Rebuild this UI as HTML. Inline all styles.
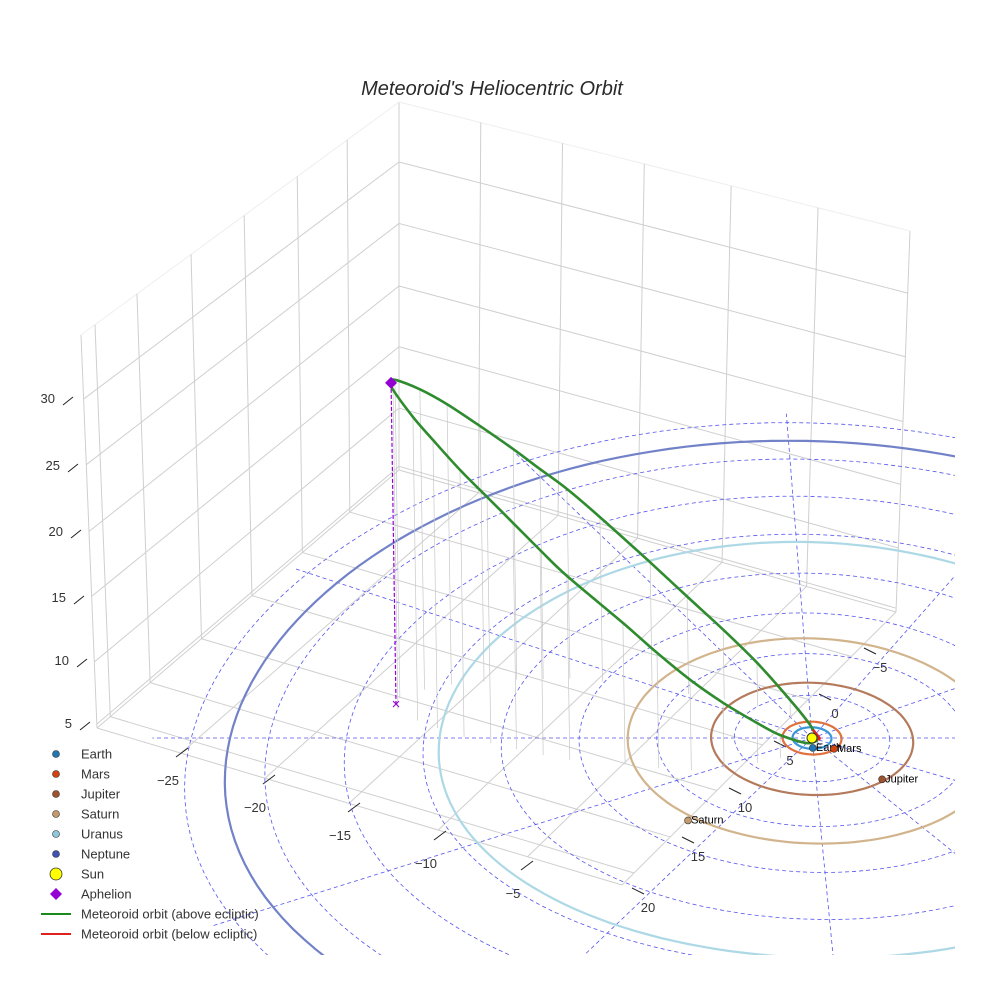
<!DOCTYPE html>
<html><head><meta charset="utf-8"><style>
html,body{margin:0;padding:0;background:#fff;overflow:hidden}
svg{display:block;font-family:"Liberation Sans",sans-serif}
</style></head><body>
<svg id="chart" width="984" height="984" viewBox="0 0 984 984">
<text x="492" y="95" text-anchor="middle" font-size="20" font-style="italic" fill="#2a2a2a">Meteoroid's Heliocentric Orbit</text>
<g id="box"></g>
<g id="ticks"></g>
<defs><clipPath id="pc"><rect x="0" y="0" width="955" height="955"/></clipPath></defs>
<g id="plane" clip-path="url(#pc)"></g>
<g id="marks"></g>
<g id="legend"></g>
</svg>
<script>
// ---- data ----
const orbitNames = ["Earth","Mars","Jupiter","Saturn","Uranus","Neptune"];
const orbitRadii = [1.0,1.52,5.2,9.5,19.2,30.0];
const orbitColors = ["#3a97d6","#e0703c","#b47a5c","#d2b48c","#add8e6","#7282c8"];
const planetU = [0.0,1.08,3.35,-6.46];
const planetV = [0.92,1.0,3.78,7.46];
const planetColors = ["#1f77b4","#d5410f","#a0522d","#c49a6c"];
const gridRadii = [4,8,12,16,20,24,28,32];
const upperU = [-21.70,-21.54,-20.30,-18.91,-17.19,-15.46,-14.05,-12.63,-10.89,-8.25,-6.32,-4.45,-2.71,-1.04,-0.05,0.3];
const upperV = [-3.18,-3.72,-4.54,-5.04,-5.32,-5.51,-5.55,-5.60,-5.32,-4.68,-4.12,-3.61,-2.95,-1.88,-1.01,0.2];
const upperZ = [24.7,24.5,23.1,21.55,19.64,17.72,16.15,14.58,12.64,9.68,7.50,5.37,3.36,1.38,0.17,0];
const lowerU = [-21.70,-21.56,-20.45,-19.37,-17.94,-16.53,-15.19,-13.80,-12.43,-9.61,-7.90,-6.25,-4.59,-2.87,-1.70,-0.29,0.3];
const lowerV = [-3.18,-2.68,-1.62,-0.93,-0.10,0.47,1.01,1.58,2.05,2.43,2.78,2.95,2.78,2.30,1.84,0.77,0.2];
const lowerZ = [24.7,24.58,23.36,22.15,20.54,18.93,17.39,15.78,14.18,10.89,8.88,6.96,5.04,3.08,1.77,0.25,0];
const belowU = [0.3,0.4,0.1];
const belowV = [0.2,-0.5,-1.0];
const belowZ = [0.0,-0.4,-0.2];
const aphelion = [-21.70,-3.18,24.7];
const xTickLabels = ["−25","−20","−15","−10","−5"];
const yTickLabels = ["20","15","10","5","0","−5"];
const zTickLabels = ["30","25","20","15","10","5"];

const NS="http://www.w3.org/2000/svg";
function P(u,v,z){const wx=1-0.006*v,wy=1-0.003*v;return [812+(19.4*u+0.93*v)/wx-0.2*z, 738+10.8*v/wy-13*z];}
function el(tag,attrs,parent){const e=document.createElementNS(NS,tag);for(const k in attrs)e.setAttribute(k,attrs[k]);parent.appendChild(e);return e;}
function lerp(a,b,t){return [a[0]+(b[0]-a[0])*t,a[1]+(b[1]-a[1])*t];}
const box=document.getElementById('box'),ticks=document.getElementById('ticks'),plane=document.getElementById('plane'),marks=document.getElementById('marks'),legend=document.getElementById('legend');

// ---- axis box ----
const L=[97,728],Bk=[399,470],R=[896,612],F=[622,885],Lt=[81,335],Bt=[399,102],Rt=[910,231];
const gc="#cfcfcf";
function line(a,b,c,w,parent){return el('line',{x1:a[0],y1:a[1],x2:b[0],y2:b[1],stroke:c,'stroke-width':w},parent);}
[[L,Lt],[Bk,Bt],[R,Rt]].forEach(p=>{const l=line(p[0],p[1],gc,1,box);});
line(Lt,Bt,"#eee",1,box);line(Bt,Rt,"#eee",1,box);
const leftFr=[0.044,0.176,0.346,0.513,0.68,0.837];
const rightFr=[0.16,0.32,0.48,0.65,0.82];
leftFr.forEach(t=>{const l=line(lerp(L,Bk,t),lerp(Lt,Bt,t),gc,1,box);
  line(lerp(L,Bk,t),lerp(F,R,t),gc,1,box);});
rightFr.forEach(t=>{const l=line(lerp(Bk,R,t),lerp(Bt,Rt,t),gc,1,box);
  line(lerp(Bk,R,t),lerp(L,F,t),gc,1,box);});
line(L,Bk,gc,1,box);line(Bk,R,gc,1,box);line(L,F,gc,1,box);line(F,R,gc,1,box);
const zFr=[0.163,0.33,0.5,0.665,0.832,0.99];
zFr.forEach(t=>{const a=lerp(Lt,L,t),b=lerp(Bt,Bk,t),c=lerp(Rt,R,t);
  const l=line(a,b,gc,1,box);line(b,c,gc,1,box);});

// ---- tick labels ----
const xPos=[[168,785],[255,812],[340,840],[426,868],[513,898]];
xTickLabels.forEach((s,i)=>{const t=el('text',{x:xPos[i][0],y:xPos[i][1],'font-size':13,fill:'#333','text-anchor':'middle'},ticks);t.textContent=s;
  
  line([xPos[i][0]+8,xPos[i][1]-28],[xPos[i][0]+20,xPos[i][1]-37],'#222',1,ticks);});
const yPos=[[648,912],[698,861],[745,812],[790,765],[835,718],[880,672]];
yTickLabels.forEach((s,i)=>{const t=el('text',{x:yPos[i][0],y:yPos[i][1],'font-size':13,fill:'#333','text-anchor':'middle'},ticks);t.textContent=s;
  
  line([yPos[i][0]-16,yPos[i][1]-24],[yPos[i][0]-4,yPos[i][1]-18],'#222',1,ticks);});
const zPos=[[55,403],[60,470],[63,536],[66,602],[69,665],[72,728]];
zTickLabels.forEach((s,i)=>{const t=el('text',{x:zPos[i][0],y:zPos[i][1],'font-size':13,fill:'#333','text-anchor':'end'},ticks);t.textContent=s;
  
  line([zPos[i][0]+8,zPos[i][1]+2],[zPos[i][0]+18,zPos[i][1]-6],'#222',1,ticks);});

// ---- ecliptic plane ----
function ellipsePath(r){let d='';for(let k=0;k<=180;k++){const a=k/180*2*Math.PI;const p=P(r*Math.cos(a),r*Math.sin(a),0);d+=(k?'L':'M')+p[0].toFixed(1)+','+p[1].toFixed(1);}return d;}
gridRadii.forEach(r=>{const p=el('path',{d:ellipsePath(r),fill:'none',stroke:'#5555ee','stroke-width':0.8,'stroke-dasharray':'4,3'},plane);
  });
for(let k=0;k<12;k++){const a=k*Math.PI/6;const r=k===0||k===6?34:33;const p=P(r*Math.cos(a),r*Math.sin(a),0);const c=P(0,0,0);
  const l=el('line',{x1:c[0],y1:c[1],x2:p[0],y2:p[1],stroke:'#5555ee','stroke-width':0.8,'stroke-dasharray':'4,3'},plane);
  }
orbitRadii.forEach((r,i)=>{const p=el('path',{d:ellipsePath(r),fill:'none',stroke:orbitColors[i],'stroke-width':2.2},plane);
  });

// ---- meteoroid ----
function crPath(pts){let d='M'+pts[0][0]+','+pts[0][1];for(let i=0;i<pts.length-1;i++){const p0=pts[Math.max(0,i-1)],p1=pts[i],p2=pts[i+1],p3=pts[Math.min(pts.length-1,i+2)];
  const c1=[p1[0]+(p2[0]-p0[0])/6,p1[1]+(p2[1]-p0[1])/6],c2=[p2[0]-(p3[0]-p1[0])/6,p2[1]-(p3[1]-p1[1])/6];
  d+='C'+c1[0].toFixed(1)+','+c1[1].toFixed(1)+' '+c2[0].toFixed(1)+','+c2[1].toFixed(1)+' '+p2[0].toFixed(1)+','+p2[1].toFixed(1);}return d;}
function drops(U,V,Z){U.forEach((u,i)=>{if(i===0||Z[i]<1.2)return;const a=P(u,V[i],Z[i]),b=P(u,V[i],0);
  const l=el('line',{x1:a[0],y1:a[1],x2:b[0],y2:b[1],stroke:'#c8c8c8','stroke-width':0.7},marks);
  });}
drops(upperU,upperV,upperZ);drops(lowerU,lowerV,lowerZ);
const ap=P(aphelion[0],aphelion[1],aphelion[2]),af=P(aphelion[0],aphelion[1],0);
const apl=el('line',{x1:ap[0],y1:ap[1],x2:af[0],y2:af[1],stroke:'#9400d3','stroke-width':1.2,'stroke-dasharray':'4,2'},marks);

const ax=el('text',{x:af[0],y:af[1]+5,'font-size':15,fill:'#9400d3','text-anchor':'middle'},marks);ax.textContent='×';

[[upperU,upperV,upperZ,'orbit-upper-branch'],[lowerU,lowerV,lowerZ,'orbit-lower-branch']].forEach(b=>{
  const pts=b[0].map((u,i)=>P(u,b[1][i],b[2][i]));
  const p=el('path',{d:crPath(pts),fill:'none',stroke:'#2e8b2e','stroke-width':2.6},marks);
  });
const bp=el('path',{d:crPath(belowU.map((u,i)=>P(u,belowV[i],belowZ[i]))),fill:'none',stroke:'#e02020','stroke-width':2.4},marks);

const sp=P(0,0,0);
const sun=el('circle',{cx:sp[0],cy:sp[1],r:5,fill:'#ffff00',stroke:'#333','stroke-width':1},marks);

planetU.forEach((u,i)=>{const p=P(u,planetV[i],0);
  const c=el('circle',{cx:p[0],cy:p[1],r:3.5,fill:planetColors[i],stroke:'#333','stroke-width':0.6},marks);
  
  const t=el('text',{x:p[0]+3,y:p[1]+3,'font-size':11,fill:'#000'},marks);t.textContent=orbitNames[i];
  });
const dm=el('path',{d:`M${ap[0]},${ap[1]-6}L${ap[0]+6},${ap[1]}L${ap[0]},${ap[1]+6}L${ap[0]-6},${ap[1]}Z`,fill:'#9400d3'},marks);


// ---- legend ----
const legNames=["Earth","Mars","Jupiter","Saturn","Uranus","Neptune","Sun","Aphelion","Meteoroid orbit (above ecliptic)","Meteoroid orbit (below ecliptic)"];
const legColors=["#1f77b4","#d5410f","#a0522d","#c49a6c","#8fc8dc","#3f51b5","#ffff00","#9400d3","#1a8a1a","#e02020"];
legNames.forEach((n,i)=>{const y=754+i*20;const g=el('g',{},legend);
  
  if(i<6) el('circle',{cx:56,cy:y,r:3.5,fill:legColors[i],stroke:'#333','stroke-width':0.6},g);
  else if(i===6) el('circle',{cx:56,cy:y,r:6,fill:legColors[i],stroke:'#333','stroke-width':0.8},g);
  else if(i===7) el('path',{d:`M56,${y-6}L62,${y}L56,${y+6}L50,${y}Z`,fill:legColors[i]},g);
  else el('line',{x1:41,y1:y,x2:71,y2:y,stroke:legColors[i],'stroke-width':2},g);
  const t=el('text',{x:81,y:y+4.5,'font-size':13,fill:'#333'},g);t.textContent=n;});
</script>
</body></html>
